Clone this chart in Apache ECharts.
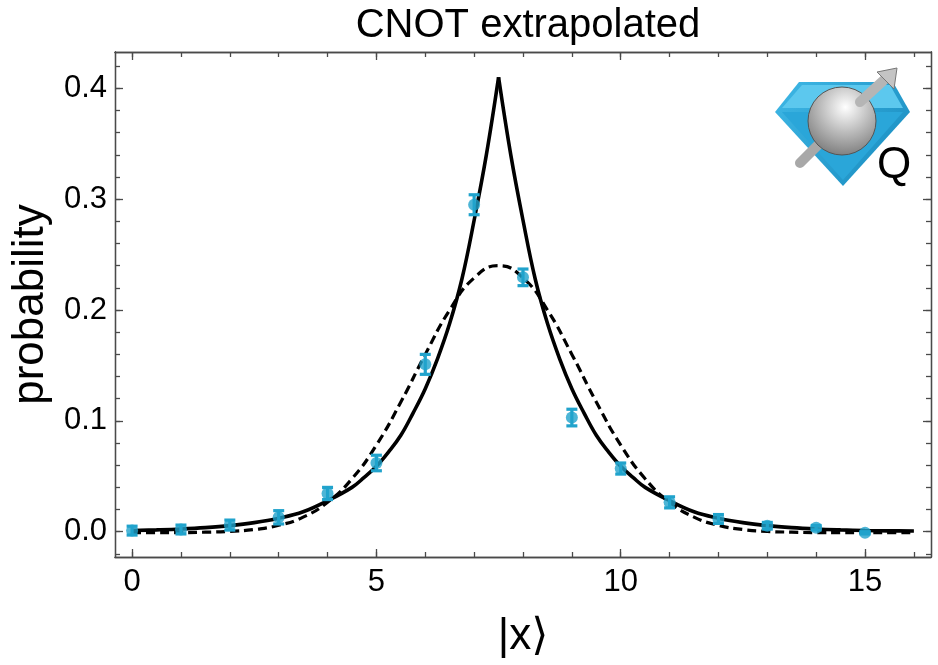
<!DOCTYPE html>
<html>
<head>
<meta charset="utf-8">
<script src="https://cdn.jsdelivr.net/npm/echarts@6/dist/echarts.min.js"></script>
<style>html,body{margin:0;padding:0;background:#fff}#c{width:938px;height:665px}</style>
</head>
<body>
<div id="c"></div>
<script>
// ---- data ----
const pointX   = [0, 1, 2, 3, 4, 5, 6, 7, 8, 9, 10, 11, 12, 13, 14, 15];
const pointY   = [0.001, 0.002, 0.006, 0.013, 0.0345, 0.062, 0.151, 0.295, 0.2295, 0.103, 0.057, 0.0265, 0.0115, 0.0054, 0.0036, -0.001];
const pointErr = [0.004, 0.004, 0.0045, 0.006, 0.0055, 0.007, 0.009, 0.009, 0.0075, 0.0075, 0.005, 0.005, 0.004, 0.003, 0.002, 0.001];

// solid curve (cusp at 7.5), left and right halves
const solidLeftX  = [0, 0.5, 1, 1.5, 2, 2.5, 3, 3.5, 4, 4.5, 4.75, 5, 5.25, 5.5, 5.75, 6, 6.25, 6.5, 6.75, 7, 7.25, 7.5];
const solidLeftY  = [0.0011, 0.0017, 0.0025, 0.0037, 0.0055, 0.0082, 0.0122, 0.018, 0.028, 0.040, 0.049, 0.059, 0.072, 0.087, 0.107, 0.129, 0.156, 0.188, 0.228, 0.281, 0.340, 0.410];
const solidRightX = [7.5, 7.75, 8, 8.25, 8.5, 8.75, 9, 9.25, 9.5, 9.75, 10, 10.25, 10.5, 11, 11.5, 12, 12.5, 13, 13.5, 14, 14.5, 15, 15.5, 16];
const solidRightY = [0.410, 0.340, 0.281, 0.228, 0.188, 0.156, 0.129, 0.107, 0.087, 0.072, 0.059, 0.049, 0.040, 0.028, 0.018, 0.0122, 0.0082, 0.0055, 0.0037, 0.0025, 0.0017, 0.0011, 0.0008, 0.0007];

// dashed curve
const dashX = [0, 0.5, 1, 1.5, 2, 2.5, 3, 3.5, 4, 4.5, 5, 5.5, 6, 6.5, 7, 7.5, 8, 8.5, 9, 9.5, 10, 10.5, 11, 11.5, 12, 12.5, 13, 13.5, 14, 14.5, 15, 15.5, 16];
const dashY = [-0.0008, -0.0008, -0.0008, -0.0004, 0.0003, 0.002, 0.0058, 0.0132, 0.0266, 0.0478, 0.0782, 0.117, 0.160, 0.200, 0.229, 0.240, 0.229, 0.200, 0.160, 0.117, 0.0782, 0.0478, 0.0266, 0.0132, 0.0058, 0.002, 0.0003, -0.0004, -0.0008, -0.0008, -0.0008, -0.0008, -0.0008];

// ticks
const xMajorTicks = [0, 5, 10, 15];
const xMinorTicks = [0, 1, 2, 3, 4, 5, 6, 7, 8, 9, 10, 11, 12, 13, 14, 15, 16];
const yMajorTicks = [0, 0.1, 0.2, 0.3, 0.4];
const yMinorTicks = [-0.02, 0, 0.02, 0.04, 0.06, 0.08, 0.1, 0.12, 0.14, 0.16, 0.18, 0.2, 0.22, 0.24, 0.26, 0.28, 0.3, 0.32, 0.34, 0.36, 0.38, 0.4, 0.42];

const titleText = 'CNOT extrapolated';
const xName = '|x\u27E9';
const yName = 'probability';

// ---- chart ----
const FONT = '"Liberation Sans", Arial, "DejaVu Sans", sans-serif';
const AX = '#4a4a4a';
const BLUE = '#21a3cc';
const XMIN = -0.35, XMAX = 16.35, YMIN = -0.0228, YMAX = 0.4328;

function axis(kind, pos, ticks, len, opts) {
  const o = {
    type: 'value', position: pos,
    min: kind === 'x' ? XMIN : YMIN, max: kind === 'x' ? XMAX : YMAX,
    axisLine: { show: true, onZero: false, lineStyle: { color: AX, width: 1.3 } },
    axisTick: { show: true, inside: true, length: len, customValues: ticks, lineStyle: { color: AX, width: 1.3 } },
    axisLabel: { show: false },
    splitLine: { show: false }
  };
  return Object.assign(o, opts || {});
}

const chart = echarts.init(document.getElementById('c'), null, { renderer: 'canvas' });

const option = {
  animation: false,
  backgroundColor: '#fff',
  title: {
    text: titleText, left: 523, top: 1, textAlign: 'center',
    textStyle: { fontFamily: FONT, fontSize: 40, fontWeight: 'normal', color: '#000' }
  },
  grid: { left: 115, top: 52, right: 7, bottom: 108, containLabel: false },
  xAxis: [
    axis('x', 'bottom', xMajorTicks, 8, {
      name: xName, nameLocation: 'middle', nameGap: 58,
      nameTextStyle: { fontFamily: FONT, fontSize: 44, color: '#000' },
      axisLabel: { show: true, customValues: xMajorTicks, margin: 10, fontFamily: FONT, fontSize: 31, color: '#000' }
    }),
    axis('x', 'bottom', xMinorTicks, 5),
    axis('x', 'top', xMajorTicks, 8),
    axis('x', 'top', xMinorTicks, 5)
  ],
  yAxis: [
    axis('y', 'left', yMajorTicks, 8, {
      name: yName, nameLocation: 'middle', nameGap: 62, nameRotate: 90,
      nameTextStyle: { fontFamily: FONT, fontSize: 44, color: '#000' },
      axisLabel: { show: true, customValues: yMajorTicks, margin: 8, fontFamily: FONT, fontSize: 31, color: '#000',
                   formatter: v => v.toFixed(1) }
    }),
    axis('y', 'left', yMinorTicks, 5),
    axis('y', 'right', yMajorTicks, 8),
    axis('y', 'right', yMinorTicks, 5)
  ],
  series: [
    {
      type: 'line', xAxisIndex: 0, yAxisIndex: 0, showSymbol: false, smooth: 0.5,
      data: dashX.map((x, i) => [x, dashY[i]]),
      lineStyle: { color: '#000', width: 3.2, type: [9, 5] }, z: 3
    },
    {
      type: 'line', xAxisIndex: 0, yAxisIndex: 0, showSymbol: false, smooth: 0.4,
      data: solidLeftX.map((x, i) => [x, solidLeftY[i]]),
      lineStyle: { color: '#000', width: 3.6 }, z: 3
    },
    {
      type: 'line', xAxisIndex: 0, yAxisIndex: 0, showSymbol: false, smooth: 0.4,
      data: solidRightX.map((x, i) => [x, solidRightY[i]]),
      lineStyle: { color: '#000', width: 3.6 }, z: 3
    },
    {
      type: 'custom', xAxisIndex: 0, yAxisIndex: 0, z: 4,
      data: pointX.map((x, i) => [x, pointY[i], pointErr[i]]),
      renderItem: function (params, api) {
        const x = api.value(0), y = api.value(1), e = api.value(2);
        const t = api.coord([x, y + e]);
        const b = api.coord([x, y - e]);
        const hw = 5.5;
        const st = { stroke: BLUE, lineWidth: 3.2 };
        return {
          type: 'group', children: [
            { type: 'line', shape: { x1: t[0], y1: t[1], x2: b[0], y2: b[1] }, style: st },
            { type: 'line', shape: { x1: t[0] - hw, y1: t[1], x2: t[0] + hw, y2: t[1] }, style: st },
            { type: 'line', shape: { x1: b[0] - hw, y1: b[1], x2: b[0] + hw, y2: b[1] }, style: st }
          ]
        };
      }
    },
    {
      type: 'scatter', xAxisIndex: 0, yAxisIndex: 0, z: 5,
      symbol: 'circle', symbolSize: 12,
      itemStyle: { color: BLUE },
      data: pointX.map((x, i) => [x, pointY[i]])
    }
  ],
  graphic: [
    // logo: blue diamond
    { type: 'polygon', z: 10, shape: { points: [[799, 82], [893, 82], [910, 112], [843, 186], [775, 112]] },
      style: { fill: new echarts.graphic.LinearGradient(0, 0, 1, 1, [{ offset: 0, color: '#3fb8e6' }, { offset: 1, color: '#1689bd' }]) } },
    { type: 'polygon', z: 10, shape: { points: [[802, 85], [890, 85], [903, 108], [782, 108]] },
      style: { fill: '#5cc8ee' } },
    { type: 'polygon', z: 10, shape: { points: [[782, 112], [903, 112], [843, 180]] },
      style: { fill: '#2aa6d9' } },
    // lower rod (behind sphere)
    { type: 'line', z: 11, shape: { x1: 800, y1: 163, x2: 830, y2: 133 },
      style: { stroke: '#a8a8a8', lineWidth: 10, lineCap: 'round' } },
    // sphere
    { type: 'circle', z: 12, shape: { cx: 842, cy: 121, r: 34 },
      style: { fill: new echarts.graphic.RadialGradient(0.55, 0.3, 0.8, [{ offset: 0, color: '#ffffff' }, { offset: 0.45, color: '#bdbdbd' }, { offset: 1, color: '#6e6e6e' }]),
               stroke: '#555', lineWidth: 1 } },
    // upper rod + arrowhead
    { type: 'line', z: 13, shape: { x1: 860, y1: 102, x2: 884, y2: 80 },
      style: { stroke: '#b5b5b5', lineWidth: 10, lineCap: 'round' } },
    { type: 'polygon', z: 13, shape: { points: [[897, 68], [877, 72], [894, 89]] },
      style: { fill: '#c4c4c4', stroke: '#777', lineWidth: 1 } },
    // Q
    { type: 'text', z: 14, x: 894, y: 166,
      style: { text: 'Q', fontFamily: FONT, fontSize: 44, fill: '#000', align: 'center', verticalAlign: 'middle' } }
  ]
};
chart.setOption(option);
</script>
</body>
</html>
